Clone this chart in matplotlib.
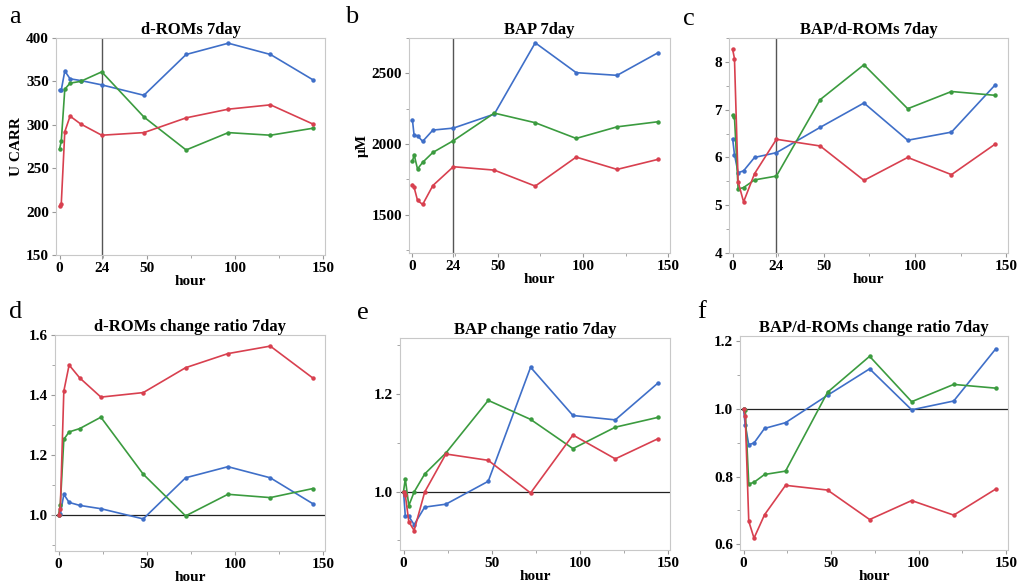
import matplotlib
matplotlib.use("Agg")
import matplotlib.pyplot as plt
from matplotlib.ticker import MultipleLocator, FormatStrFormatter

plt.rcParams['font.family'] = ['Liberation Serif', 'DejaVu Serif']

# sampling times (hour)
hours = [0, 1, 3, 6, 12, 24, 48, 72, 96, 120, 144]

# a - d-ROMs (U CARR)
droms_blue = [340, 340, 362, 353, 351, 346, 334, 381, 394, 381, 352]
droms_green = [272, 281, 341, 348, 350, 361, 309, 271, 291, 288, 296]
droms_red = [206, 209, 292, 310, 301, 288, 291, 308, 318, 323, 301]

# b - BAP (uM)
bap_blue = [2172, 2061, 2059, 2019, 2099, 2113, 2212, 2716, 2505, 2486, 2646]
bap_green = [1878, 1925, 1824, 1871, 1941, 2024, 2219, 2151, 2040, 2122, 2158]
bap_red = [1713, 1694, 1602, 1573, 1707, 1840, 1816, 1703, 1908, 1821, 1892]

# c - BAP/d-ROMs
ratio_blue = [6.39, 6.06, 5.68, 5.72, 6.00, 6.10, 6.63, 7.14, 6.36, 6.53, 7.52]
ratio_green = [6.88, 6.85, 5.34, 5.37, 5.53, 5.61, 7.21, 7.94, 7.02, 7.38, 7.30]
ratio_red = [8.26, 8.07, 5.49, 5.07, 5.66, 6.38, 6.24, 5.52, 6.00, 5.64, 6.28]

# d - d-ROMs change ratio
dchg_blue = [1.0, 1.002, 1.069, 1.042, 1.032, 1.021, 0.987, 1.124, 1.161, 1.124, 1.038]
dchg_green = [1.0, 1.033, 1.252, 1.277, 1.288, 1.326, 1.136, 0.997, 1.069, 1.058, 1.088]
dchg_red = [1.0, 1.019, 1.413, 1.500, 1.457, 1.393, 1.408, 1.491, 1.538, 1.563, 1.457]

# e - BAP change ratio
bchg_blue = [1.0, 0.950, 0.949, 0.932, 0.968, 0.974, 1.021, 1.255, 1.156, 1.147, 1.222]
bchg_green = [1.0, 1.026, 0.971, 0.999, 1.036, 1.079, 1.187, 1.148, 1.088, 1.132, 1.152]
bchg_red = [1.0, 0.993, 0.938, 0.920, 0.999, 1.077, 1.064, 0.997, 1.116, 1.067, 1.108]

# f - BAP/d-ROMs change ratio
rchg_blue = [1.0, 0.952, 0.894, 0.899, 0.942, 0.959, 1.040, 1.118, 0.997, 1.023, 1.177]
rchg_green = [1.0, 0.997, 0.778, 0.783, 0.806, 0.816, 1.049, 1.155, 1.021, 1.072, 1.061]
rchg_red = [1.0, 0.978, 0.668, 0.618, 0.687, 0.774, 0.760, 0.673, 0.729, 0.686, 0.763]

BLUE = "#3f6fc8"
GREEN = "#3b9b3f"
RED = "#d8404f"

fig = plt.figure(figsize=(10.22, 5.85), dpi=100)
W, H = 1022, 585


def make_axes(left, top, right, bottom):
    return fig.add_axes([left / W, 1 - bottom / H, (right - left) / W, (bottom - top) / H])


panels = [
    dict(box=(56, 38, 325, 255), letter="a", lpos=(9, 6), title="d-ROMs 7day", ylabel="U CARR",
         series=(droms_blue, droms_green, droms_red), ylim=(150, 400), major=50, minor=None,
         vline=True, hline=False),
    dict(box=(409, 38, 670, 253), letter="b", lpos=(345, 6), title="BAP 7day", ylabel="\u03bcM",
         series=(bap_blue, bap_green, bap_red), ylim=(1230, 2750), major=500, minor=250,
         vline=True, hline=False),
    dict(box=(729, 38, 1008, 253), letter="c", lpos=(683, 8), title="BAP/d-ROMs 7day", ylabel=None,
         series=(ratio_blue, ratio_green, ratio_red), ylim=(4, 8.5), major=1, minor=0.5,
         vline=True, hline=False),
    dict(box=(55, 335, 325, 551), letter="d", lpos=(9, 301), title="d-ROMs change ratio 7day", ylabel=None,
         series=(dchg_blue, dchg_green, dchg_red), ylim=(0.88, 1.6), major=0.2, minor=0.1,
         vline=False, hline=True),
    dict(box=(400, 338, 670, 550), letter="e", lpos=(357, 302), title="BAP change ratio 7day", ylabel=None,
         series=(bchg_blue, bchg_green, bchg_red), ylim=(0.88, 1.315), major=0.2, minor=0.1,
         vline=False, hline=True),
    dict(box=(740, 336, 1008, 550), letter="f", lpos=(697, 301), title="BAP/d-ROMs change ratio 7day", ylabel=None,
         series=(rchg_blue, rchg_green, rchg_red), ylim=(0.583, 1.215), major=0.2, minor=0.1,
         vline=False, hline=True),
]

for p in panels:
    ax = make_axes(*p["box"])
    for vals, col in zip(p["series"], (BLUE, GREEN, RED)):
        ax.plot(hours, vals, color=col, lw=1.2, marker="o", ms=2.2, zorder=3)
    if p["vline"]:
        ax.axvline(24, color="#555555", lw=1.0, zorder=2)
        ax.set_xticks([0, 24, 50, 100, 150])
    else:
        ax.set_xticks([0, 50, 100, 150])
    if p["hline"]:
        ax.axhline(1.0, color="#222222", lw=0.9, zorder=2)
    ax.xaxis.set_minor_locator(MultipleLocator(25))
    ax.set_xlim(-2, 151)
    ax.set_ylim(*p["ylim"])
    ax.yaxis.set_major_locator(MultipleLocator(p["major"]))
    if p["minor"]:
        ax.yaxis.set_minor_locator(MultipleLocator(p["minor"]))
    if p["letter"] in "def":
        ax.yaxis.set_major_formatter(FormatStrFormatter("%.1f"))
    for s in ax.spines.values():
        s.set_color("#c8c8c8")
        s.set_linewidth(0.8)
    ax.tick_params(which="both", color="#999999", labelsize=11, pad=2)
    ax.tick_params(which="major", length=3)
    ax.tick_params(which="minor", length=2)
    for lab in ax.get_xticklabels() + ax.get_yticklabels():
        lab.set_fontweight("bold")
    ax.set_xlabel("hour", fontsize=11, fontweight="bold", labelpad=0)
    if p["ylabel"]:
        ax.set_ylabel(p["ylabel"], fontsize=11, fontweight="bold", labelpad=2)
    ax.set_title(p["title"], fontsize=12, fontweight="bold", pad=3)
    lx, ly = p["lpos"]
    fig.text(lx / W, 1 - ly / H, p["letter"], fontsize=19, va="top", ha="left")

fig.savefig("out.png", dpi=100)
